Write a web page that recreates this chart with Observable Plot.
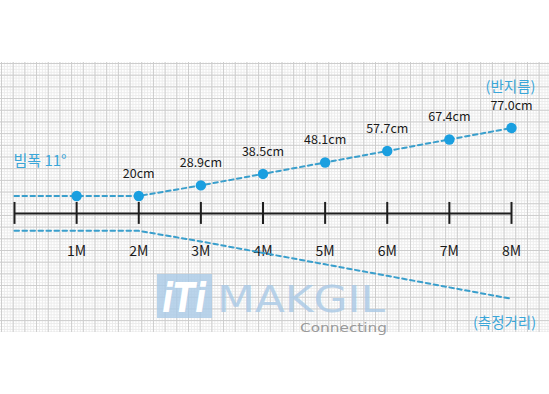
<!DOCTYPE html>
<html>
<head>
<meta charset="utf-8">
<script src="https://cdn.jsdelivr.net/npm/d3@7"></script>
<script src="https://cdn.jsdelivr.net/npm/@observablehq/plot@0.6"></script>
<style>
  html, body { margin: 0; padding: 0; background: #fff; }
  #wrap { position: relative; width: 549px; height: 394px; overflow: hidden; background: #fff; font-family: "Noto Sans CJK KR", "Noto Sans", sans-serif; }
  #grid {
    position: absolute; left: 0; top: 62px; width: 549px; height: 270px;
    background-color: #fff;
    background-image:
      linear-gradient(to right, #cdcdcd 1px, transparent 1px),
      linear-gradient(to bottom, #cdcdcd 1px, transparent 1px),
      linear-gradient(to right, #ececec 1px, transparent 1px),
      linear-gradient(to bottom, #ececec 1px, transparent 1px);
    background-size: 11.7px 11.7px, 11.7px 11.7px, 2.925px 2.925px, 2.925px 2.925px;
    background-position: 1px 1px, 1px 1px, 1px 1px, 1px 1px;
  }
  #wm { position: absolute; left: 0; top: 0; }
  #chart { position: absolute; left: 0; top: 0; }
</style>
</head>
<body>
<div id="wrap">
  <div id="grid"></div>
  <svg id="wm" width="549" height="394">
    <rect x="157" y="274" width="55" height="44" fill="#a9c9e6" opacity="0.8"></rect>
    <text x="184" y="312" text-anchor="middle" font-family="DejaVu Sans" font-style="italic" font-weight="bold" font-size="40" fill="#ffffff" textLength="44" lengthAdjust="spacingAndGlyphs">iTi</text>
    <text x="217" y="312" font-family="DejaVu Sans" font-size="37" fill="#a9c9e6" opacity="0.8" textLength="168" lengthAdjust="spacingAndGlyphs">MAKGIL</text>
    <text x="300" y="332" font-family="DejaVu Sans" font-size="12.5" fill="#9a9a9a" textLength="87" lengthAdjust="spacingAndGlyphs">Connecting</text>
  </svg>
  <div id="chart"></div>
</div>
<script>
// Distances along the measuring axis (metres)
const distances = [0, 1, 2, 3, 4, 5, 6, 7, 8];
// Beam radius (cm) at each distance (flat up to 2M as drawn)
const beamRadius = [20, 20, 20, 28.9, 38.5, 48.1, 57.7, 67.4, 77.0];
// Labels above the dots
const radiusLabels = ["", "", "20cm", "28.9cm", "38.5cm", "48.1cm", "57.7cm", "67.4cm", "77.0cm"];
// Axis tick labels
const tickLabels = ["", "1M", "2M", "3M", "4M", "5M", "6M", "7M", "8M"];

const beam = distances.map((d, i) => ({d, r: beamRadius[i], label: radiusLabels[i], tick: tickLabels[i]}));
const dots = beam.filter(b => b.d > 0);
const AXIS = 5.4;            // centre line value in radius units
const mirror = v => 2 * AXIS - v;

const blue = "#3a9fcc";
const dotBlue = "#1a9fe0";
const annBlue = "#3ba6d8";

const chart = Plot.plot({
  width: 549,
  height: 394,
  margin: 0,
  style: {background: "transparent", fontFamily: "'Noto Sans CJK KR', 'Noto Sans', sans-serif"},
  x: {domain: [0, 8], range: [14, 511], axis: null},
  y: {domain: [20, 77], range: [195.5, 127.5], axis: null},
  marks: [
    // measuring axis
    Plot.ruleY([AXIS], {x1: 0, x2: 8, stroke: "#1e1e1e", strokeWidth: 2}),
    Plot.ruleX(beam, {x: "d", y1: AXIS - 9.2, y2: AXIS + 9.2, stroke: "#1e1e1e", strokeWidth: 2}),
    Plot.text(beam.filter(b => b.tick), {x: "d", y: -26.5, text: "tick", fontSize: 14, fill: "#1a1a1a"}),
    // beam edges
    Plot.line(beam, {x: "d", y: "r", stroke: blue, strokeWidth: 2, strokeDasharray: "4.5,3.5"}),
    Plot.line(beam, {x: "d", y: b => mirror(b.r), stroke: blue, strokeWidth: 2, strokeDasharray: "4.5,3.5"}),
    // points
    Plot.dot(dots, {x: "d", y: "r", r: 5.2, fill: dotBlue, stroke: "none"}),
    Plot.text(dots.filter(b => b.label), {x: "d", y: "r", text: "label", dy: -22, fontSize: 12.5, fill: "#1a1a1a"}),
    // annotations
    Plot.text(["빔폭 11°"], {frameAnchor: "top-left", dx: 13, dy: 155, textAnchor: "start", fontSize: 15, fill: annBlue}),
    Plot.text(["(반지름)"], {frameAnchor: "top-left", dx: 510, dy: 81, textAnchor: "middle", fontSize: 14.5, fill: annBlue}),
    Plot.text(["(측정거리)"], {frameAnchor: "top-left", dx: 504, dy: 317, textAnchor: "middle", fontSize: 14.5, fill: annBlue})
  ]
});
document.getElementById("chart").appendChild(chart);
</script>
</body>
</html>
